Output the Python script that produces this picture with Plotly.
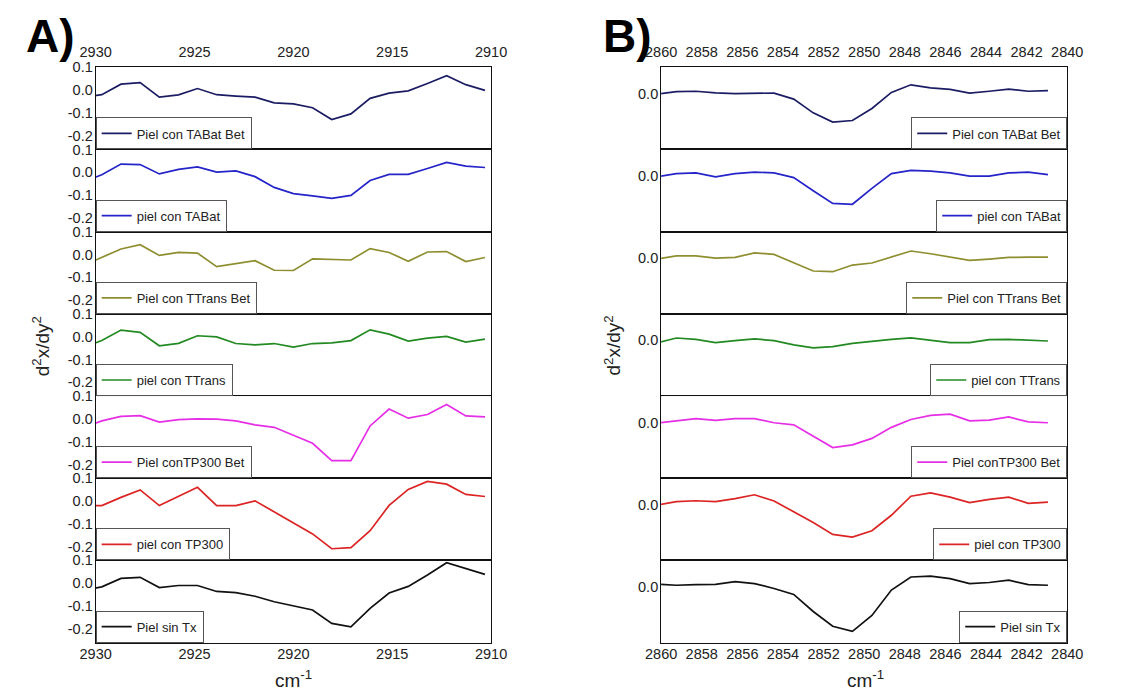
import plotly.graph_objects as go

# ---------------- data ----------------
wn_A = [2930.66, 2929.69, 2928.72, 2927.75, 2926.78, 2925.81, 2924.85, 2923.88, 2922.91,
        2921.94, 2920.97, 2920.00, 2919.03, 2918.06, 2917.09, 2916.12, 2915.16, 2914.19,
        2913.22, 2912.25, 2911.28, 2910.31]
wn_B = [2860.21, 2859.25, 2858.29, 2857.32, 2856.36, 2855.40, 2854.44, 2853.47, 2852.51,
        2851.55, 2850.58, 2849.62, 2848.66, 2847.70, 2846.73, 2845.77, 2844.81, 2843.84,
        2842.88, 2841.92, 2840.95]

names = ["Piel con TABat Bet", "piel con TABat", "Piel con TTrans Bet", "piel con TTrans",
         "Piel conTP300 Bet", "piel con TP300", "Piel sin Tx"]
colors = ["#1c1c64", "#2424c8", "#8e8e30", "#238a23", "#e62ee6", "#dc2424", "#111111"]

A_tabat_bet = [-0.032, -0.020, 0.026, 0.033, -0.031, -0.021, 0.007, -0.020, -0.026, -0.031, -0.056,
               -0.060, -0.077, -0.129, -0.104, -0.036, -0.013, -0.003, 0.029, 0.063, 0.024, -0.001]
A_tabat = [-0.042, -0.011, 0.036, 0.034, -0.007, 0.013, 0.024, 0.001, 0.006, -0.019, -0.066,
           -0.093, -0.103, -0.114, -0.101, -0.036, -0.009, -0.009, 0.017, 0.043, 0.027, 0.021]
A_ttrans_bet = [-0.049, -0.011, 0.024, 0.043, -0.004, 0.009, 0.006, -0.053, -0.039, -0.027, -0.069,
                -0.070, -0.019, -0.020, -0.024, 0.026, 0.009, -0.030, 0.011, 0.013, -0.031, -0.013]
A_ttrans = [-0.048, -0.017, 0.029, 0.019, -0.040, -0.029, 0.004, -0.001, -0.030, -0.036, -0.030,
            -0.046, -0.030, -0.027, -0.017, 0.030, 0.011, -0.019, -0.006, 0.001, -0.024, -0.011]
A_tp300_bet = [-0.040, -0.009, 0.011, 0.014, -0.014, -0.003, 0.000, -0.001, -0.009, -0.026, -0.037,
               -0.071, -0.107, -0.183, -0.183, -0.031, 0.043, 0.003, 0.019, 0.063, 0.013, 0.009]
A_tp300 = [-0.020, -0.020, 0.016, 0.049, -0.020, 0.020, 0.060, -0.020, -0.020, 0.001, -0.047,
           -0.094, -0.144, -0.209, -0.204, -0.130, -0.019, 0.051, 0.086, 0.074, 0.029, 0.020]
A_sin_tx = [-0.032, -0.016, 0.021, 0.026, -0.019, -0.010, -0.010, -0.036, -0.041, -0.057, -0.081,
            -0.099, -0.117, -0.176, -0.191, -0.110, -0.043, -0.014, 0.036, 0.090, 0.064, 0.039]

B_tabat_bet = [-0.002, 0.009, 0.011, 0.004, 0.001, 0.001, 0.003, -0.023, -0.083, -0.123, -0.116,
               -0.064, 0.006, 0.039, 0.026, 0.019, 0.003, 0.011, 0.020, 0.011, 0.014]
B_tabat = [-0.004, 0.010, 0.013, -0.004, 0.010, 0.017, 0.013, -0.007, -0.064, -0.119, -0.123,
           -0.054, 0.010, 0.024, 0.021, 0.013, -0.001, -0.001, 0.013, 0.017, 0.006]
B_ttrans_bet = [-0.004, 0.010, 0.010, 0.000, 0.003, 0.023, 0.016, -0.019, -0.056, -0.059, -0.030,
                -0.021, 0.006, 0.031, 0.019, 0.003, -0.010, -0.004, 0.003, 0.004, 0.004]
B_ttrans = [-0.011, 0.010, 0.004, -0.010, -0.001, 0.006, -0.001, -0.020, -0.033, -0.027, -0.013,
            -0.003, 0.004, 0.011, 0.001, -0.010, -0.010, 0.003, 0.004, -0.001, -0.003]
B_tp300_bet = [-0.003, 0.007, 0.017, 0.009, 0.017, 0.017, -0.001, -0.010, -0.061, -0.109, -0.097,
               -0.069, -0.021, 0.013, 0.031, 0.036, 0.007, 0.010, 0.024, 0.003, -0.001]
B_tp300 = [-0.002, 0.013, 0.017, 0.013, 0.026, 0.043, 0.016, -0.031, -0.077, -0.129, -0.141,
           -0.113, -0.046, 0.037, 0.051, 0.033, 0.009, 0.023, 0.033, 0.006, 0.011]
B_sin_tx = [0.012, 0.007, 0.010, 0.011, 0.023, 0.014, -0.007, -0.033, -0.107, -0.171, -0.193,
            -0.124, -0.014, 0.043, 0.047, 0.036, 0.014, 0.019, 0.029, 0.010, 0.007]

series_A = [A_tabat_bet, A_tabat, A_ttrans_bet, A_ttrans, A_tp300_bet, A_tp300, A_sin_tx]
series_B = [B_tabat_bet, B_tabat, B_ttrans_bet, B_ttrans, B_tp300_bet, B_tp300, B_sin_tx]

xticks_A = [2930, 2925, 2920, 2915, 2910]
xticks_B = [2860, 2858, 2856, 2854, 2852, 2850, 2848, 2846, 2844, 2842, 2840]
yticks_A = [-0.2, -0.1, 0.0, 0.1]
yticktext_A = ["-0.2", "-0.1", "0.0", "0.1"]
yticks_B = [0.0]
yticktext_B = ["0.0"]

# ---------------- layout geometry ----------------
W, H = 1126, 692
FONT = "Liberation Sans, Arial, sans-serif"
TXT = "#222222"
top_px, bot_px = 60, 642
y_top = 1 - top_px / H
y_bot = 1 - bot_px / H
hstep = (y_top - y_bot) / 7
domA = [82 / W, 489 / W]
domB = [664 / W, 1082 / W]

fig = go.Figure()
layout = dict(
    width=W, height=H,
    margin=dict(l=0, r=0, t=0, b=0),
    paper_bgcolor="white", plot_bgcolor="white",
    font=dict(family=FONT, size=14, color=TXT),
    showlegend=True,
)

def axis_key(prefix, n):
    return prefix if n == 1 else f"{prefix}{n}"

for panel in range(2):
    xs = wn_A if panel == 0 else wn_B
    data = series_A if panel == 0 else series_B
    dom = domA if panel == 0 else domB
    for k in range(7):
        n = panel * 7 + k + 1
        xa = "x" if n == 1 else f"x{n}"
        ya = "y" if n == 1 else f"y{n}"
        lg = axis_key("legend", n)
        fig.add_trace(go.Scatter(
            x=xs, y=data[k], mode="lines", name=names[k],
            line=dict(color=colors[k], width=1.7),
            xaxis=xa, yaxis=ya, legend=lg, showlegend=True,
        ))
        d_top = y_top - k * hstep
        d_bot = d_top - hstep
        if panel == 0:
            xrange = [2930, 2910]
            tv = xticks_A
            yr = [-0.26, 0.1]
            ytv, ytt = yticks_A, yticktext_A
        else:
            xrange = [2860, 2840]
            tv = xticks_B
            yr = [-0.242, 0.115]
            ytv, ytt = yticks_B, yticktext_B
        xaxis = dict(
            domain=dom, anchor=ya, range=xrange, tickvals=tv,
            ticktext=[str(v) for v in tv],
            showline=True, mirror=True, linecolor="#111111", linewidth=1,
            showgrid=False, zeroline=False, ticks="",
            showticklabels=(k == 0 or k == 6),
            side="top" if k == 0 else "bottom",
            ticklabelstandoff=4 if k == 0 else -2,
            tickfont=dict(size=14.5, color=TXT, family=FONT),
        )
        yaxis = dict(
            domain=[d_bot, d_top], anchor=xa, range=yr,
            tickvals=ytv, ticktext=ytt,
            showline=True, mirror=True, linecolor="#111111", linewidth=1,
            showgrid=False, zeroline=False, ticks="",
            tickfont=dict(size=14.5, color=TXT, family=FONT),
            ticklabelstandoff=-1,
        )
        layout[axis_key("xaxis", n)] = xaxis
        layout[axis_key("yaxis", n)] = yaxis
        legend = dict(
            x=dom[0] if panel == 0 else dom[1],
            xanchor="left" if panel == 0 else "right",
            y=d_bot, yanchor="bottom",
            xref="paper", yref="paper",
            bgcolor="white", bordercolor="#555555", borderwidth=1,
            font=dict(size=13, color=TXT, family=FONT),
            itemwidth=30, tracegroupgap=0,
        )
        layout[lg] = legend

annotations = [
    dict(text="<b>A)</b>", x=8 / W, y=1.0, xref="paper", yref="paper",
         xanchor="left", yanchor="top", showarrow=False,
         font=dict(size=46, family=FONT, color="#000000")),
    dict(text="<b>B)</b>", x=602 / W, y=1.0, xref="paper", yref="paper",
         xanchor="left", yanchor="top", showarrow=False,
         font=dict(size=46, family=FONT, color="#000000")),
    dict(text="d<sup>2</sup>x/dy<sup>2</sup>", x=26 / W, y=1 - 342 / H, xref="paper", yref="paper",
         xanchor="center", yanchor="middle", textangle=-90, showarrow=False,
         font=dict(size=19, family=FONT, color=TXT)),
    dict(text="d<sup>2</sup>x/dy<sup>2</sup>", x=614 / W, y=1 - 342 / H, xref="paper", yref="paper",
         xanchor="center", yanchor="middle", textangle=-90, showarrow=False,
         font=dict(size=19, family=FONT, color=TXT)),
    dict(text="cm<sup>-1</sup>", x=286 / W, y=1 - 679 / H, xref="paper", yref="paper",
         xanchor="center", yanchor="middle", showarrow=False,
         font=dict(size=19, family=FONT, color=TXT)),
    dict(text="cm<sup>-1</sup>", x=874 / W, y=1 - 679 / H, xref="paper", yref="paper",
         xanchor="center", yanchor="middle", showarrow=False,
         font=dict(size=19, family=FONT, color=TXT)),
]
layout["annotations"] = annotations

fig.update_layout(**layout)
fig.write_html("out.html")
